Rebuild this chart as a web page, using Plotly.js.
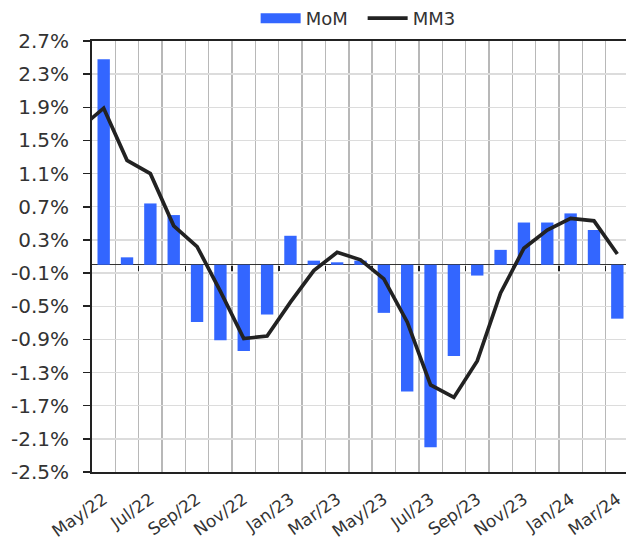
<!DOCTYPE html>
<html>
<head>
<meta charset="utf-8">
<script src="https://cdn.plot.ly/plotly-3.0.1.min.js"></script>
<style>
html,body{margin:0;padding:0;width:626px;height:542px;overflow:hidden;background:#fff;}
#chart{width:632px;height:542px;}
</style>
</head>
<body>
<div id="chart"></div>
<script>
// Categories (Apr/22 only carries the clipped start of the MM3 line)
const months = ['Apr/22','May/22','Jun/22','Jul/22','Aug/22','Sep/22','Oct/22','Nov/22','Dec/22',
  'Jan/23','Feb/23','Mar/23','Apr/23','May/23','Jun/23','Jul/23','Aug/23','Sep/23','Oct/23','Nov/23','Dec/23',
  'Jan/24','Feb/24','Mar/24'];
// Month-on-month change, %
const mom = [null, 2.48, 0.09, 0.74, 0.60, -0.69, -0.91, -1.04, -0.60,
  0.35, 0.05, 0.03, 0.05, -0.58, -1.53, -2.20, -1.10, -0.13, 0.18, 0.51, 0.51,
  0.62, 0.42, -0.65];
// Three-month moving measure, %
const mm3 = [1.65, 1.89, 1.26, 1.10, 0.47, 0.22, -0.32, -0.89, -0.86,
  -0.45, -0.07, 0.15, 0.06, -0.17, -0.69, -1.45, -1.60, -1.16, -0.34, 0.20, 0.42,
  0.56, 0.53, 0.13];
// Tick labels
const xTickLabels = months.map((m, i) => (i % 2 === 1 ? m : ''));
const yTicks = [-2.5, -2.1, -1.7, -1.3, -0.9, -0.5, -0.1, 0.3, 0.7, 1.1, 1.5, 1.9, 2.3, 2.7];
const yTickLabels = yTicks.map(v => v.toFixed(1) + '%');

const FONT = 'DejaVu Sans, Verdana, sans-serif';
const TXT = '#333333';
const BLUE = '#3366ff';

const traces = [
  {type:'bar', x:months, y:mom, name:'MoM', marker:{color:BLUE}, showlegend:false, hoverinfo:'skip'},
  {type:'scatter', mode:'lines', x:[null], y:[null], xaxis:'x2', name:'MoM', line:{color:BLUE, width:10}, hoverinfo:'skip'},
  {type:'scatter', mode:'lines', x:months, y:mm3, name:'MM3', line:{color:'#222222', width:3.7}, hoverinfo:'skip'}
];

const n = months.length;
const zeroTicks = [];
for (let k = 2.5; k < n; k += 2) zeroTicks.push(k);

const layout = {
  width:632, height:542,
  margin:{l:92, r:3, t:41, b:70, autoexpand:false},
  paper_bgcolor:'#ffffff', plot_bgcolor:'#ffffff',
  font:{family:FONT, size:18, color:TXT},
  bargap:0.47,
  showlegend:true,
  legend:{orientation:'h', x:0.504, xanchor:'center', yref:'container', y:1.0, yanchor:'top',
    bgcolor:'rgba(0,0,0,0)', entrywidth:52,
    font:{family:FONT, size:18, color:TXT}, itemwidth:40, traceorder:'normal', tracegroupgap:0},
  xaxis:{
    type:'category', categoryorder:'array', categoryarray:months,
    range:[0.5, n - 0.5],
    tickmode:'array', tickvals:months, ticktext:xTickLabels,
    tickson:'boundaries', ticks:'', tickangle:-35,
    ticklabelstandoff:9,
    showgrid:true, gridcolor:'#b8b8b8', gridwidth:1.4,
    showline:true, linecolor:'#222222', linewidth:2, mirror:true,
    tickfont:{family:FONT, size:17, color:TXT},
    zeroline:false, fixedrange:true
  },
  xaxis2:{
    overlaying:'x', anchor:'free', position:2.5/5.2,
    range:[0.5, n - 0.5], type:'linear',
    tickmode:'array', tickvals:zeroTicks, showticklabels:false,
    ticks:'outside', ticklen:5, tickwidth:1.5, tickcolor:'#222222',
    showgrid:false, showline:false, zeroline:false, fixedrange:true
  },
  yaxis:{
    range:[-2.5, 2.7],
    tickmode:'array', tickvals:yTicks, ticktext:yTickLabels,
    ticks:'outside', ticklen:7, tickwidth:1.5, tickcolor:'#222222',
    ticklabelstandoff:10,
    showgrid:true, gridcolor:'#dcdcdc', gridwidth:1.4,
    showline:true, linecolor:'#222222', linewidth:2, mirror:true,
    zeroline:true, zerolinecolor:'#333333', zerolinewidth:1.2,
    tickfont:{family:FONT, size:20, color:TXT},
    fixedrange:true
  }
};

Plotly.newPlot('chart', traces, layout, {displayModeBar:false, staticPlot:true});
</script>
</body>
</html>
